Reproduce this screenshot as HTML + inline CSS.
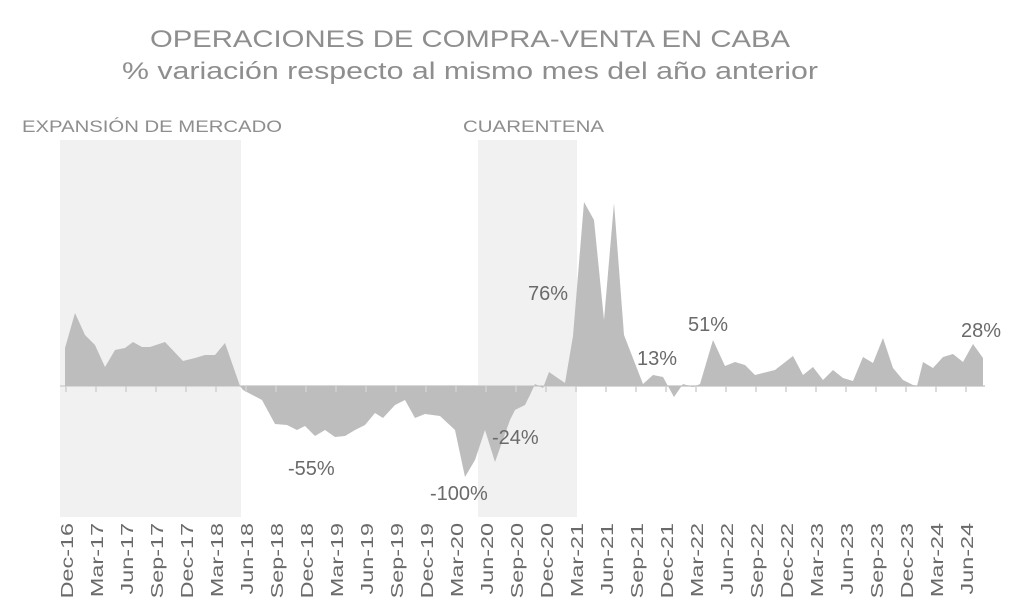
<!DOCTYPE html>
<html><head><meta charset="utf-8"><style>body{margin:0;background:#fff}svg{display:block}text{font-family:"Liberation Sans",sans-serif}</style></head><body>
<svg width="1024" height="616" viewBox="0 0 1024 616">
<rect x="60" y="140" width="181" height="377" fill="#f1f1f1"/>
<rect x="478" y="140" width="99" height="377" fill="#f1f1f1"/>
<text x="150" y="47" font-size="24" fill="#8e8e8e" textLength="640" lengthAdjust="spacingAndGlyphs">OPERACIONES DE COMPRA-VENTA EN CABA</text>
<text x="122" y="79" font-size="24" fill="#8e8e8e" textLength="696" lengthAdjust="spacingAndGlyphs">% variación respecto al mismo mes del año anterior</text>
<text x="22" y="132" font-size="17" fill="#8e8e8e" textLength="260" lengthAdjust="spacingAndGlyphs">EXPANSIÓN DE MERCADO</text>
<text x="463" y="132" font-size="17" fill="#8e8e8e" textLength="141" lengthAdjust="spacingAndGlyphs">CUARENTENA</text>
<line x1="60" y1="386" x2="985" y2="386" stroke="#d8d8d8" stroke-width="2"/>
<polygon fill="#bdbdbd" points="65,386 65,348 75,313 85,335 95,345 105,367 115,350 125,348 133,342 142,347 150,347 165,342 183,361 195,358 205,355 215,355 225,343 240,386 243,390 262,400 275,424 287,425 297,430 305,426 315,436 325,430 335,437 345,436 355,430 365,425 375,413 383,418 395,405 405,400 415,418 425,414 440,416 455,430 465,477 475,460 485,430 495,462 510,420 515,410 525,405 530,395 535,384 543,388 549,372 565,383 573,336 584,202 594,220 604,320 614,203 624,335 643,384 653,375 663,377 674,397 683,384 693,387 700,384 713,340 725,366 735,362 745,365 755,375 775,370 793,356 803,375 813,367 823,380 833,370 843,378 853,381 863,357 873,363 883,338 893,368 903,380 913,385 917,386 923,362 933,368 943,357 953,354 963,362 973,344 983,358 983,386"/>
<g stroke="#d0d0d0" stroke-width="1.5">
<line x1="66" y1="386" x2="66" y2="392"/><line x1="96" y1="386" x2="96" y2="392"/><line x1="126" y1="386" x2="126" y2="392"/><line x1="156" y1="386" x2="156" y2="392"/><line x1="186" y1="386" x2="186" y2="392"/><line x1="216" y1="386" x2="216" y2="392"/><line x1="246" y1="386" x2="246" y2="392"/><line x1="276" y1="386" x2="276" y2="392"/><line x1="306" y1="386" x2="306" y2="392"/><line x1="336" y1="386" x2="336" y2="392"/><line x1="366" y1="386" x2="366" y2="392"/><line x1="396" y1="386" x2="396" y2="392"/><line x1="426" y1="386" x2="426" y2="392"/><line x1="456" y1="386" x2="456" y2="392"/><line x1="486" y1="386" x2="486" y2="392"/><line x1="516" y1="386" x2="516" y2="392"/><line x1="546" y1="386" x2="546" y2="392"/><line x1="576" y1="386" x2="576" y2="392"/><line x1="606" y1="386" x2="606" y2="392"/><line x1="636" y1="386" x2="636" y2="392"/><line x1="666" y1="386" x2="666" y2="392"/><line x1="696" y1="386" x2="696" y2="392"/><line x1="726" y1="386" x2="726" y2="392"/><line x1="756" y1="386" x2="756" y2="392"/><line x1="786" y1="386" x2="786" y2="392"/><line x1="816" y1="386" x2="816" y2="392"/><line x1="846" y1="386" x2="846" y2="392"/><line x1="876" y1="386" x2="876" y2="392"/><line x1="906" y1="386" x2="906" y2="392"/><line x1="936" y1="386" x2="936" y2="392"/><line x1="966" y1="386" x2="966" y2="392"/>
</g>
<g font-size="20" fill="#6a6a6a">
<text x="528" y="300">76%</text>
<text x="688" y="331">51%</text>
<text x="637" y="365">13%</text>
<text x="961" y="337">28%</text>
<text x="288" y="475">-55%</text>
<text x="430" y="500">-100%</text>
<text x="492" y="444">-24%</text>
</g>
<g font-size="18" fill="#6a6a6a" text-anchor="end">
<text transform="translate(73,523) rotate(-90) scale(1.3,1)">Dec-16</text>
<text transform="translate(103,523) rotate(-90) scale(1.3,1)">Mar-17</text>
<text transform="translate(133,523) rotate(-90) scale(1.3,1)">Jun-17</text>
<text transform="translate(163,523) rotate(-90) scale(1.3,1)">Sep-17</text>
<text transform="translate(193,523) rotate(-90) scale(1.3,1)">Dec-17</text>
<text transform="translate(223,523) rotate(-90) scale(1.3,1)">Mar-18</text>
<text transform="translate(253,523) rotate(-90) scale(1.3,1)">Jun-18</text>
<text transform="translate(283,523) rotate(-90) scale(1.3,1)">Sep-18</text>
<text transform="translate(313,523) rotate(-90) scale(1.3,1)">Dec-18</text>
<text transform="translate(343,523) rotate(-90) scale(1.3,1)">Mar-19</text>
<text transform="translate(373,523) rotate(-90) scale(1.3,1)">Jun-19</text>
<text transform="translate(403,523) rotate(-90) scale(1.3,1)">Sep-19</text>
<text transform="translate(433,523) rotate(-90) scale(1.3,1)">Dec-19</text>
<text transform="translate(463,523) rotate(-90) scale(1.3,1)">Mar-20</text>
<text transform="translate(493,523) rotate(-90) scale(1.3,1)">Jun-20</text>
<text transform="translate(523,523) rotate(-90) scale(1.3,1)">Sep-20</text>
<text transform="translate(553,523) rotate(-90) scale(1.3,1)">Dec-20</text>
<text transform="translate(583,523) rotate(-90) scale(1.3,1)">Mar-21</text>
<text transform="translate(613,523) rotate(-90) scale(1.3,1)">Jun-21</text>
<text transform="translate(643,523) rotate(-90) scale(1.3,1)">Sep-21</text>
<text transform="translate(673,523) rotate(-90) scale(1.3,1)">Dec-21</text>
<text transform="translate(703,523) rotate(-90) scale(1.3,1)">Mar-22</text>
<text transform="translate(733,523) rotate(-90) scale(1.3,1)">Jun-22</text>
<text transform="translate(763,523) rotate(-90) scale(1.3,1)">Sep-22</text>
<text transform="translate(793,523) rotate(-90) scale(1.3,1)">Dec-22</text>
<text transform="translate(823,523) rotate(-90) scale(1.3,1)">Mar-23</text>
<text transform="translate(853,523) rotate(-90) scale(1.3,1)">Jun-23</text>
<text transform="translate(883,523) rotate(-90) scale(1.3,1)">Sep-23</text>
<text transform="translate(913,523) rotate(-90) scale(1.3,1)">Dec-23</text>
<text transform="translate(943,523) rotate(-90) scale(1.3,1)">Mar-24</text>
<text transform="translate(973,523) rotate(-90) scale(1.3,1)">Jun-24</text>
</g>
</svg>
</body></html>
